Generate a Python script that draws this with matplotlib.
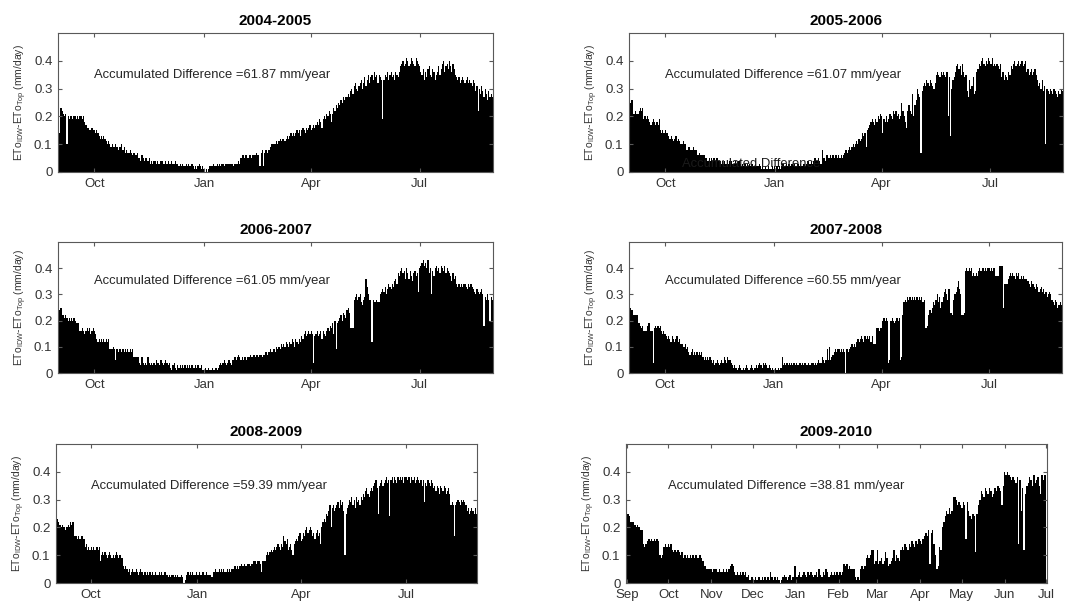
import numpy as np
import pandas as pd
import matplotlib.pyplot as plt

plt.rcParams['font.family'] = ['Liberation Sans', 'DejaVu Sans']

# daily ETo_IDW - ETo_Top, in 0.01 mm/day, one line per month (Sep .. Aug)
diff_0405 = [
    23,14,23,22,21,20,21,10,20,19,20,20,19,20,20,19,20,19,20,20,19,20,18,17,16,16,15,15,16,15,
    15,14,15,14,13,12,13,12,13,12,11,10,11,10,9,10,9,9,10,9,8,9,9,10,8,9,7,8,7,7,8,
    7,6,7,7,6,7,5,5,4,6,5,4,5,5,4,5,3,4,3,4,4,3,4,3,3,4,4,3,3,4,
    3,4,3,3,4,3,3,4,3,3,2,3,2,3,2,2,3,2,3,2,2,3,2,1,2,1,2,3,2,1,2,
    1,0,1,0,1,2,2,2,3,2,2,3,2,3,2,3,3,2,3,3,3,3,3,3,3,2,3,3,3,4,3,
    5,6,6,5,6,6,5,6,6,5,6,6,6,7,6,6,2,7,8,2,7,8,7,8,8,9,10,10,
    10,10,11,10,11,12,11,12,12,11,12,13,12,13,14,13,14,13,14,15,14,15,13,15,16,15,14,16,15,16,17,
    15,16,17,16,17,18,17,19,18,16,19,20,19,21,20,22,21,18,21,23,22,24,23,25,24,26,25,27,26,27,
    27,28,27,29,30,28,31,32,30,29,31,32,33,30,32,34,31,33,35,32,34,35,33,36,34,35,32,35,34,33,19,
    33,35,34,36,33,35,36,34,35,33,36,35,34,36,38,39,40,38,39,41,40,38,39,41,40,39,38,41,40,39,
    38,36,35,37,33,36,34,37,38,35,34,37,36,33,35,36,38,35,37,39,40,36,38,39,37,40,38,36,39,37,35,
    34,33,34,32,33,34,33,32,33,34,32,33,32,31,33,32,29,31,22,30,28,31,29,27,30,28,26,29,27,28,27,
]

diff_0506 = [
    26,25,26,21,21,22,21,21,22,23,22,23,19,20,19,20,19,18,17,18,19,18,17,18,17,19,15,14,15,14,
    15,14,14,13,12,13,12,11,12,13,11,12,11,10,10,11,10,10,8,8,9,8,8,8,9,8,8,6,6,7,6,
    6,6,6,5,5,4,5,4,5,4,5,4,5,5,4,4,3,4,3,4,3,4,3,4,3,4,3,3,4,3,
    3,4,3,2,3,2,3,2,3,2,3,2,3,2,2,3,2,2,3,2,1,2,1,2,1,1,2,1,1,2,1,
    2,1,2,1,2,1,2,3,2,2,3,2,3,2,3,3,2,3,2,3,3,2,3,2,3,3,2,3,4,3,3,
    4,3,4,5,4,4,5,4,3,8,5,5,4,6,5,5,6,5,6,5,6,6,5,6,5,6,5,6,
    7,8,7,8,9,8,9,10,9,10,11,10,12,11,12,14,13,14,9,15,16,17,18,19,18,17,19,18,20,19,21,
    20,14,19,18,20,18,19,21,20,19,22,21,22,20,21,19,20,25,22,20,18,16,22,24,22,21,28,20,24,26,
    30,28,27,7,29,31,32,31,33,32,31,33,32,31,30,32,35,36,35,34,36,35,36,35,34,36,20,34,13,30,33,
    34,36,38,39,37,38,35,39,36,34,35,29,27,33,30,31,34,28,29,36,37,39,38,40,41,39,38,40,39,41,
    40,39,41,38,39,38,39,38,37,39,34,36,33,35,34,33,36,35,38,37,39,40,38,39,40,38,39,40,38,39,40,
    36,37,35,36,37,35,36,37,35,33,31,32,30,33,29,31,10,30,29,28,30,29,28,30,29,28,27,29,28,30,29,
]

diff_0607 = [
    25,24,25,22,22,21,22,21,20,21,20,21,20,21,20,19,19,19,16,16,17,16,15,16,17,16,17,15,16,17,
    16,15,13,12,13,12,13,12,13,12,13,12,13,9,9,9,10,9,5,9,8,9,9,8,9,8,9,8,9,8,9,
    8,9,6,6,6,6,6,4,3,6,4,3,4,3,6,4,3,4,3,4,3,5,4,4,3,5,4,3,4,5,
    4,3,4,2,1,3,4,2,1,3,2,3,2,3,2,3,2,3,2,3,2,3,2,2,3,2,3,2,2,3,1,
    1,2,1,1,2,1,1,2,1,1,2,1,2,3,4,3,4,5,4,3,4,5,4,3,5,5,6,5,6,7,6,
    5,6,5,6,6,5,6,6,7,6,6,7,6,7,7,6,7,7,6,7,7,8,7,8,8,9,8,9,
    9,8,10,9,10,9,11,10,11,10,12,11,10,12,11,13,12,10,13,12,11,13,12,14,13,15,16,14,15,16,15,
    16,15,4,14,15,16,14,15,16,13,16,15,14,16,17,16,18,17,19,15,20,9,19,20,21,22,20,23,22,21,
    24,25,23,17,17,17,28,29,30,28,29,30,27,26,28,29,36,33,30,28,28,12,28,27,27,28,27,27,30,31,32,
    31,33,30,32,34,33,32,34,33,35,36,34,38,37,39,40,38,39,36,40,38,36,39,37,35,38,39,37,38,31,
    40,41,42,43,41,42,40,43,38,40,30,39,37,40,41,39,40,38,41,40,39,41,38,40,39,38,37,35,38,36,37,
    34,33,34,33,34,33,34,34,33,32,34,33,34,33,32,31,30,32,31,30,31,32,30,18,29,28,30,28,20,29,28,
]

diff_0708 = [
    26,25,24,22,22,22,22,22,19,18,17,18,16,16,16,18,19,19,16,16,4,17,18,17,18,17,18,16,15,16,
    15,14,13,14,13,12,14,13,12,13,14,12,13,11,11,11,10,11,9,10,8,7,8,9,7,8,7,8,7,8,7,
    8,6,5,6,5,6,5,6,5,4,5,3,4,5,4,3,4,5,4,6,5,4,6,5,5,4,3,2,3,2,
    1,2,3,2,1,2,1,2,3,2,1,2,3,2,1,2,3,2,3,4,3,2,4,3,4,3,2,3,2,1,2,
    1,2,1,1,2,1,2,6,3,4,3,4,3,4,3,4,3,4,3,4,3,3,4,3,4,3,4,4,3,4,3,
    3,4,4,3,4,3,4,5,4,4,6,5,4,5,9,5,10,5,6,7,8,9,8,9,9,8,9,8,9,
    8,9,9,8,9,10,11,10,11,10,12,13,12,13,14,13,12,14,13,14,13,14,12,14,11,11,11,17,17,16,17,
    17,20,21,20,21,20,4,5,20,21,20,19,20,21,20,21,5,6,22,27,28,27,29,28,29,28,29,28,29,28,
    29,28,29,28,29,27,28,17,17,18,22,24,23,25,27,26,28,30,27,29,25,27,29,31,32,30,28,32,23,23,22,
    28,30,31,33,35,32,30,22,22,23,39,40,39,40,39,40,37,38,37,38,37,39,40,39,40,40,39,40,39,40,
    40,39,40,39,40,37,37,37,37,41,41,41,25,34,34,34,36,37,38,37,38,37,36,38,37,38,36,37,36,37,36,
    36,35,35,34,33,35,34,33,32,34,33,31,32,33,31,32,30,31,29,30,31,30,28,27,26,28,27,25,26,27,26,
]

diff_0809 = [
    25,23,22,21,20,21,20,20,19,20,21,20,22,21,22,22,17,17,16,17,16,16,17,16,16,13,14,12,13,12,
    13,12,13,12,12,13,12,13,8,10,11,10,11,10,9,10,11,10,9,10,9,10,11,10,9,10,9,9,6,5,6,
    5,4,5,3,4,5,4,4,5,4,3,4,5,4,3,4,4,3,4,3,4,3,4,3,3,4,3,3,4,3,
    4,3,3,4,3,3,2,3,2,3,3,2,3,2,3,2,2,3,2,0,0,1,3,4,3,4,3,4,3,3,4,
    3,3,4,3,3,4,3,3,4,3,3,3,2,2,4,4,5,4,4,5,4,5,4,5,4,4,5,4,5,4,5,
    5,6,6,5,6,5,6,7,6,6,7,6,6,7,7,6,7,7,8,8,7,8,8,8,7,4,8,8,
    8,10,11,10,11,12,11,12,13,12,13,14,13,12,14,13,17,15,14,16,12,13,14,12,10,14,15,16,15,17,18,
    15,16,18,17,19,20,18,19,20,19,17,18,16,18,19,17,18,14,20,22,23,22,25,24,26,28,20,27,28,26,
    27,28,29,27,30,28,29,26,10,25,27,28,30,29,31,28,30,27,31,29,30,28,31,30,32,31,33,34,32,31,33,
    34,33,35,36,37,34,25,35,36,37,35,36,37,38,36,37,24,37,38,36,38,37,36,38,37,38,37,38,36,38,
    38,37,38,38,36,38,37,38,36,37,38,37,36,37,35,37,29,36,35,37,36,35,37,36,34,35,33,35,34,32,35,
    34,33,35,34,32,33,34,32,28,29,28,17,28,29,30,29,28,30,29,30,29,28,26,27,25,26,27,26,25,27,25,
]

# Sep .. Jun only
diff_0910 = [
    26,25,24,22,22,22,21,20,21,20,19,19,14,13,14,15,16,15,16,15,16,15,16,15,10,9,10,13,14,13,
    14,13,14,12,11,12,11,12,11,10,11,9,10,9,10,9,10,9,10,9,10,9,9,10,9,8,6,6,5,5,5,
    5,4,5,5,5,4,5,4,4,5,4,5,4,5,6,7,6,4,3,4,3,4,3,4,3,4,2,3,1,2,
    2,1,2,1,2,2,1,2,1,2,1,2,1,4,2,1,2,1,2,1,0,1,2,3,2,1,2,3,1,2,6,
    6,2,3,4,2,3,4,3,2,4,3,4,3,2,3,4,2,5,3,2,4,3,5,4,2,3,4,3,4,3,4,
    3,4,3,4,7,6,7,5,6,5,5,5,2,1,2,1,5,6,5,6,9,10,9,10,12,12,7,8,
    12,7,8,9,7,8,11,9,6,7,8,9,12,8,10,9,8,12,13,12,14,13,12,14,13,15,14,13,15,14,16,
    15,14,16,17,18,17,19,7,18,19,14,10,5,6,13,12,20,22,24,26,25,27,25,26,31,31,30,28,29,28,
    27,29,28,16,29,26,24,23,25,24,11,25,28,30,33,32,31,34,33,32,34,33,31,32,34,33,35,34,33,28,35,
    40,39,40,39,38,37,38,37,36,38,14,37,26,34,12,32,35,36,38,37,35,39,36,37,38,35,32,39,37,39,
]

titles = ['2004-2005', '2005-2006', '2006-2007', '2007-2008', '2008-2009', '2009-2010']
starts = ['2004-09-01', '2005-09-01', '2006-09-01', '2007-09-01', '2008-09-01', '2009-09-01']
accum = ['61.87', '61.07', '61.05', '60.55', '59.39', '38.81']
series = [diff_0405, diff_0506, diff_0607, diff_0708, diff_0809, diff_0910]

W, H = 1069, 606
# axes boxes in pixels: left, top, right, bottom
boxes = [(58, 33, 493, 172), (629, 33, 1063, 172),
         (58, 242, 493, 373), (629, 242, 1062, 373),
         (56, 444, 477, 583), (626, 444, 1047, 583)]

fig = plt.figure(figsize=(W / 100, H / 100), dpi=100)

for i in range(6):
    l, t, r, b = boxes[i]
    ax = fig.add_axes([l / W, 1 - b / H, (r - l) / W, (b - t) / H])
    start = pd.Timestamp(starts[i])
    vals = np.array(series[i]) / 100.0
    days = pd.date_range(start, periods=len(vals), freq='D')
    ax.bar(days, vals, width=1.0, color='k', linewidth=0)

    yr = start.year
    if i < 5:
        end = pd.Timestamp(f'{yr + 1}-09-01')
        ticks = [pd.Timestamp(f'{yr}-10-01'), pd.Timestamp(f'{yr + 1}-01-01'),
                 pd.Timestamp(f'{yr + 1}-04-01'), pd.Timestamp(f'{yr + 1}-07-01')]
        labels = ['Oct', 'Jan', 'Apr', 'Jul']
    else:
        end = pd.Timestamp(f'{yr + 1}-07-01') + pd.Timedelta(days=1)
        ticks = list(pd.date_range(start, f'{yr + 1}-07-01', freq='MS'))
        labels = [d.strftime('%b') for d in ticks]
    ax.set_xlim(start - pd.Timedelta(hours=12), end - pd.Timedelta(hours=12))
    ax.set_xticks(ticks)
    ax.set_xticklabels(labels)
    ax.set_ylim(0, 0.5)
    ax.set_yticks([0, 0.1, 0.2, 0.3, 0.4])
    ax.set_yticklabels(['0', '0.1', '0.2', '0.3', '0.4'])
    ax.tick_params(direction='in', top=True, right=True, length=3, width=0.8,
                   labelsize=9.5, colors='0.35', labelcolor='0.2', pad=4)
    for s in ax.spines.values():
        s.set_color('0.35')
        s.set_linewidth(0.8)

    ax.set_title(titles[i], fontsize=11, fontweight='bold', pad=6)
    ax.set_ylabel(r'ETo$_{\mathregular{IDW}}$-ETo$_{\mathregular{Top}}$ (mm/day)',
                  fontsize=7.5, color='0.2')
    ax.yaxis.set_label_coords(-29.0 / (r - l), 0.5)

    ax.text(start + pd.Timedelta(days=30), 0.35,
            'Accumulated Difference =' + accum[i] + ' mm/year',
            fontsize=9.4, va='center', color='0.15')
    if i == 1:
        # leftover label drawn low in this panel
        ax.text(start + pd.Timedelta(days=44), 0.03, 'Accumulated Difference',
                fontsize=9.4, va='center', color='0.1')

fig.savefig('out.png', dpi=100)
